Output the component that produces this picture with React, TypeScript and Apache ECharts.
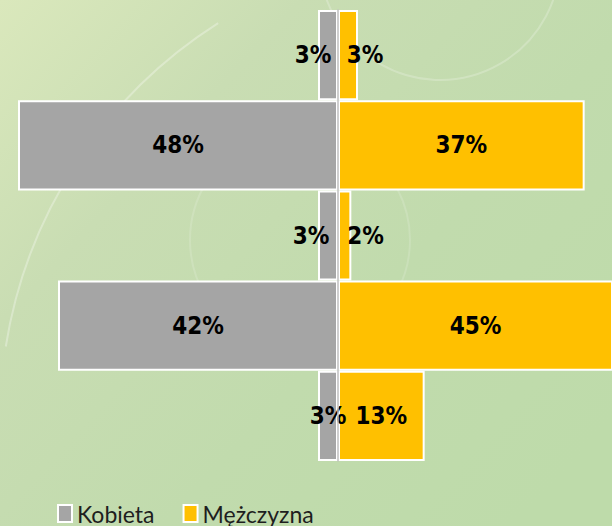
import React, { useEffect, useRef } from "react";
import * as echarts from "echarts";

const categories = ["Grupa 1", "Grupa 2", "Grupa 3", "Grupa 4", "Grupa 5"];
const kobieta = [3, 48, 3, 42, 3];
const mezczyzna = [3, 37, 2, 45, 13];
const kobietaOffsets = [-15, 0, -17, 0, 0];
const mezczyznaOffsets = [17, 0, 21, 0, 0];

const labelFont = "'Liberation Sans Narrow', 'DejaVu Sans Condensed', 'Liberation Sans', sans-serif";

export default function App() {
  const ref = useRef<HTMLDivElement>(null);
  useEffect(() => {
    if (!ref.current) return;
    const chart = echarts.init(ref.current, undefined, { renderer: "svg" });
    const labelBase = {
      show: true,
      position: "inside",
      color: "#000000",
      fontWeight: "bold",
      fontSize: 24,
      fontFamily: labelFont,
    };
    chart.setOption({
      animation: false,
      backgroundColor: {
        type: "linear",
        x: 0,
        y: 0,
        x2: 1,
        y2: 0.8,
        colorStops: [
          { offset: 0, color: "#dae8bc" },
          { offset: 0.3, color: "#c9ddb3" },
          { offset: 0.65, color: "#c1dbad" },
          { offset: 1, color: "#bedbaa" },
        ],
      },
      graphic: [
        {
          type: "circle",
          silent: true,
          z: -10,
          shape: { cx: 440, cy: -40, r: 120 },
          style: { fill: "none", stroke: "rgba(255,255,255,0.22)", lineWidth: 2 },
        },
        {
          type: "circle",
          silent: true,
          z: -10,
          shape: { cx: 300, cy: 240, r: 110 },
          style: { fill: "none", stroke: "rgba(255,255,255,0.15)", lineWidth: 2 },
        },
        {
          type: "arc",
          silent: true,
          z: -10,
          shape: { cx: 470, cy: 420, r: 470, startAngle: Math.PI * 1.05, endAngle: Math.PI * 1.32 },
          style: { fill: "none", stroke: "rgba(255,255,255,0.3)", lineWidth: 2 },
        },
      ],
      grid: { left: 0, right: 0, top: 10, height: 451, containLabel: false },
      xAxis: {
        type: "value",
        min: -50.7,
        max: 41.1,
        show: false,
      },
      yAxis: {
        type: "category",
        data: categories,
        inverse: true,
        axisLine: { show: true, lineStyle: { color: "#bfbfbf", width: 1.5 } },
        axisTick: { show: false },
        axisLabel: { show: false },
        z: 10,
      },
      legend: {
        left: 57,
        top: 502,
        padding: 0,
        itemWidth: 14,
        itemHeight: 17,
        itemGap: 28,
        icon: "rect",
        textStyle: {
          fontSize: 23,
          lineHeight: 22,
          fontFamily: "Lato, 'Open Sans', sans-serif",
          color: "#1e1e1e",
        },
        data: ["Kobieta", "Mężczyzna"],
      },
      series: [
        {
          name: "Kobieta",
          type: "bar",
          stack: "total",
          barCategoryGap: "0%",
          clip: true,
          itemStyle: { color: "#a5a5a5", borderColor: "#ffffff", borderWidth: 2 },
          data: kobieta.map((v, i) => ({
            value: -v,
            label: { ...labelBase, offset: [kobietaOffsets[i], 0] },
          })),
          label: { ...labelBase, formatter: (p: any) => Math.abs(p.value) + "%" },
        },
        {
          name: "Mężczyzna",
          type: "bar",
          stack: "total",
          barCategoryGap: "0%",
          clip: true,
          itemStyle: { color: "#ffc000", borderColor: "#ffffff", borderWidth: 2 },
          data: mezczyzna.map((v, i) => ({
            value: v,
            label: { ...labelBase, offset: [mezczyznaOffsets[i], 0] },
          })),
          label: { ...labelBase, formatter: (p: any) => Math.abs(p.value) + "%" },
        },
      ],
    });
    return () => chart.dispose();
  }, []);
  return (
    <div
      ref={ref}
      style={{ position: "absolute", left: 0, top: 0, width: 612, height: 526 }}
    />
  );
}
